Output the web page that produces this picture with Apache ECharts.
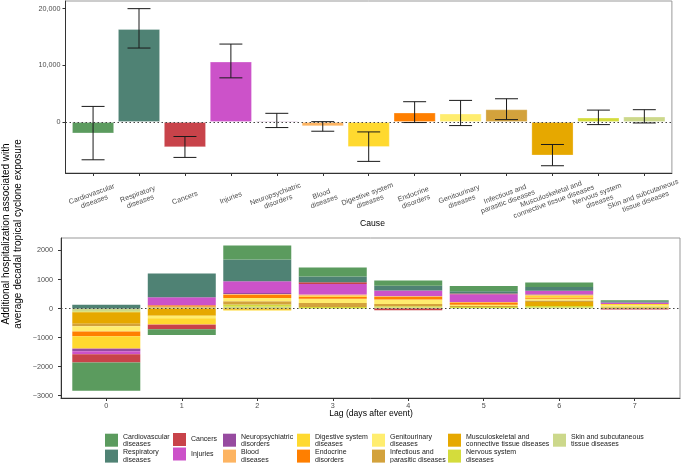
<!DOCTYPE html>
<html>
<head>
<meta charset="utf-8">
<script src="https://cdn.jsdelivr.net/npm/echarts@6/dist/echarts.min.js"></script>
<style>
html,body{margin:0;padding:0;background:#fff;}
#chart{width:685px;height:463px;}
</style>
</head>
<body>
<div id="chart"></div>
<script>
// ---- Data ----
var causes = ['Cardiovascular diseases','Respiratory diseases','Cancers','Injuries','Neuropsychiatric disorders','Blood diseases','Digestive system diseases','Endocrine disorders','Genitourinary diseases','Infectious and parasitic diseases','Musculoskeletal and connective tissue diseases','Nervous system diseases','Skin and subcutaneous tissue diseases'];
var causeLabels = ['Cardiovascular\ndiseases','Respiratory\ndiseases','Cancers','Injuries','Neuropsychiatric\ndisorders','Blood\ndiseases','Digestive system\ndiseases','Endocrine\ndisorders','Genitourinary\ndiseases','Infectious and\nparasitic diseases','Musculoskeletal and\nconnective tissue diseases','Nervous system\ndiseases','Skin and subcutaneous\ntissue diseases'];
var causeColors = ['#5b9b5e','#4f8274','#c8434a','#cc52c9','#974ba0','#fdb462','#ffd92f','#ff7f00','#ffed6f','#d3a23c','#e6a800','#d4dc3c','#ccd88b'];

var totalEffect = [-2000, 16400, -4450, 10650, 200, -750, -4400, 1650, 1470, 2230, -5900, 770, 950];
var errLow  = [-6670, 13050, -6250, 7790, -980, -1630, -6950, -100, -630, 420, -7720, -460, -170];
var errHigh = [2750, 20000, -2560, 13750, 1530, 60, -1750, 3580, 3810, 4100, -3970, 2100, 2170];

var lags = ['0','1','2','3','4','5','6','7'];
var lagCardio     = [-970, -200, 480, 310, 185, 185, 160, 30];
var lagResp       = [130, 816, 750, 195, 160, 80, 130, 50];
var lagCancers    = [-290, -150, 0, 57, -60, 25, 0, -30];
var lagInjuries   = [-100, 276, 400, 370, 205, 265, 110, 50];
var lagNeuro      = [-90, 0, 35, 0, 0, 0, 20, 0];
var lagBlood      = [-20, -30, 30, 40, 0, 35, 40, 0];
var lagDigestive  = [-410, -200, -30, 30, 20, 0, 60, 40];
var lagEndocrine  = [-160, 40, 115, 70, 90, 55, 40, 0];
var lagGenito     = [-180, -80, 110, 150, 150, 45, 60, 40];
var lagInfectious = [-90, 40, 110, 140, 80, 40, 50, 30];
var lagMusculo    = [-390, -250, -40, 0, 0, 0, 140, 0];
var lagNervous    = [-30, 0, 80, 50, 45, 30, 50, 45];
var lagSkin       = [-100, 35, 60, 0, 35, 20, 40, 0];
var lagSeriesData = [lagCardio, lagResp, lagCancers, lagInjuries, lagNeuro, lagBlood, lagDigestive, lagEndocrine, lagGenito, lagInfectious, lagMusculo, lagNervous, lagSkin];

// ---- Chart ----
var FONT = 'Liberation Sans, Arial, Helvetica, sans-serif';
var chart = echarts.init(document.getElementById('chart'), null, {renderer: 'canvas'});

var topBarData = totalEffect.map(function (v, i) {
  return {value: [v, i], itemStyle: {color: causeColors[i]}};
});
var errData = causes.map(function (c, i) { return [i, errLow[i], errHigh[i]]; });

var zeroLine = {
  silent: true, symbol: 'none', label: {show: false},
  lineStyle: {color: '#444', type: [1.5, 2.5], width: 1},
  data: [{yAxis: 0}]
};

var series = [];
series.push({
  type: 'bar', xAxisIndex: 0, yAxisIndex: 0, data: topBarData,
  encode: {x: 1, y: 0},
  barWidth: 42,
  itemStyle: {borderColor: 'rgba(255,255,255,0.35)', borderWidth: 0.8},
  markLine: zeroLine,
  z: 2
});
series.push({
  type: 'custom', xAxisIndex: 0, yAxisIndex: 0, data: errData,
  encode: {x: 0, y: [1, 2]},
  renderItem: function (params, api) {
    var i = api.value(0);
    var p1 = api.coord([i, api.value(1)]);
    var p2 = api.coord([i, api.value(2)]);
    var hw = api.size([1, 0])[0] * 0.25;
    var st = {stroke: '#1a1a1a', lineWidth: 1};
    return {type: 'group', children: [
      {type: 'line', shape: {x1: p1[0], y1: p1[1], x2: p2[0], y2: p2[1]}, style: st},
      {type: 'line', shape: {x1: p1[0] - hw, y1: p1[1], x2: p1[0] + hw, y2: p1[1]}, style: st},
      {type: 'line', shape: {x1: p2[0] - hw, y1: p2[1], x2: p2[0] + hw, y2: p2[1]}, style: st}
    ]};
  },
  z: 5
});

// bottom stacked: first series nearest zero => reverse order
// data items are [value, lagIndex] so that the stacked dimension is the value (y)
for (var k = causes.length - 1; k >= 0; k--) {
  var s = {
    name: causes[k], type: 'bar', stack: 'lag', stackStrategy: 'samesign',
    xAxisIndex: 1, yAxisIndex: 1,
    data: lagSeriesData[k].map(function (v, j) { return [v, j]; }),
    encode: {x: 1, y: 0},
    itemStyle: {color: causeColors[k]},
    barWidth: 68
  };
  if (k === 0) { s.markLine = zeroLine; }
  series.push(s);
}

// legends: columns of 2 items
var legendCols = [[0,1],[2,3],[4,5],[6,7],[8,9],[10,11],[12]];
var legendLeft = [105, 173, 223, 297, 372, 448, 553];
var legends = legendCols.map(function (col, ci) {
  return {
    orient: 'vertical', left: legendLeft[ci], top: 433, height: 80,
    itemWidth: 13, itemHeight: 13, itemGap: 1.5, itemTextGap: 5,
    padding: 0, selectedMode: true,
    icon: 'rect',
    data: col.map(function (idx) { return causes[idx]; }),
    formatter: function (name) { return causeLabels[causes.indexOf(name)]; },
    textStyle: {fontFamily: FONT, fontSize: 7, lineHeight: 7.2, color: '#1a1a1a'}
  };
});

function intLabel(arr) {
  return function (v) {
    var r = Math.round(v);
    return (Math.abs(v - r) < 1e-6 && r >= 0 && r < arr.length) ? arr[r] : '';
  };
}

var option = {
  backgroundColor: '#ffffff',
  animation: false,
  legend: legends,
  grid: [
    {left: 65.5, right: 5, top: 1, bottom: 290, show: true, borderColor: '#999', borderWidth: 1, backgroundColor: '#fff'},
    {left: 61, right: 5, top: 238, bottom: 65, show: true, borderColor: '#999', borderWidth: 1, backgroundColor: '#fff'}
  ],
  xAxis: [
    {
      type: 'value', gridIndex: 0, min: -0.6, max: 12.6, splitNumber: 13,
      axisLine: {show: true, onZero: false, lineStyle: {color: '#333', width: 1}},
      axisTick: {show: true, length: 3, lineStyle: {color: '#333'}},
      axisLabel: {
        showMinLabel: false, showMaxLabel: false,
        rotate: 20, align: 'center', verticalAlign: 'middle', margin: 25,
        fontFamily: FONT, fontSize: 7.2, lineHeight: 8, color: '#4d4d4d',
        formatter: intLabel(causeLabels)
      },
      splitLine: {show: false}
    },
    {
      type: 'value', gridIndex: 1, min: -0.6, max: 7.6, splitNumber: 8,
      axisLine: {show: true, onZero: false, lineStyle: {color: '#333', width: 1}},
      axisTick: {show: true, length: 3, lineStyle: {color: '#333'}},
      axisLabel: {showMinLabel: false, showMaxLabel: false, fontFamily: FONT, fontSize: 7.2, color: '#4d4d4d', margin: 5, formatter: intLabel(lags)},
      splitLine: {show: false}
    }
  ],
  yAxis: [
    {
      type: 'value', gridIndex: 0, min: -9000, max: 21350, splitNumber: 3,
      axisLine: {show: true, onZero: false, lineStyle: {color: '#333', width: 1}},
      axisTick: {show: true, length: 3, lineStyle: {color: '#333'}},
      axisLabel: {
        fontFamily: FONT, fontSize: 7.2, color: '#4d4d4d', margin: 5,
        showMinLabel: false, showMaxLabel: false,
        formatter: function (v) { return (v % 10000 === 0) ? echarts.format.addCommas(v) : ''; }
      },
      splitLine: {show: false}
    },
    {
      type: 'value', gridIndex: 1, min: -3080, max: 2430, splitNumber: 5,
      axisLine: {show: true, onZero: false, lineStyle: {color: '#333', width: 1}},
      axisTick: {show: true, length: 3, lineStyle: {color: '#333'}},
      axisLabel: {
        fontFamily: FONT, fontSize: 7.2, color: '#4d4d4d', margin: 8,
        showMinLabel: false, showMaxLabel: false,
        formatter: function (v) { return (v % 1000 === 0) ? String(v).replace('-', '\u2212') : ''; }
      },
      splitLine: {show: false}
    }
  ],
  graphic: [
    {type: 'text', x: 12, y: 234, rotation: Math.PI / 2,
     style: {text: 'Additional hospitalization associated with\naverage decadal tropical cyclone exposure',
             fontFamily: FONT, fontSize: 10, lineHeight: 12.5, fill: '#000', align: 'center', verticalAlign: 'middle'}},
    {type: 'text', x: 372.5, y: 224,
     style: {text: 'Cause', fontFamily: FONT, fontSize: 8.6, fill: '#000', align: 'center', verticalAlign: 'middle'}},
    {type: 'text', x: 371, y: 414,
     style: {text: 'Lag (days after event)', fontFamily: FONT, fontSize: 8.6, fill: '#000', align: 'center', verticalAlign: 'middle'}}
  ],
  series: series
};
chart.setOption(option);
</script>
</body>
</html>
